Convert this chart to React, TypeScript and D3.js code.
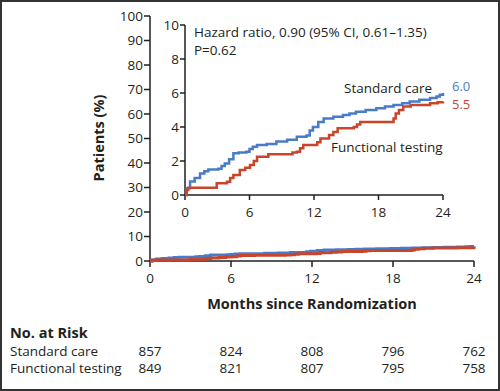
import React from 'react'
import { scaleLinear, line, curveStepAfter } from 'd3'

const months = [0, 6, 12, 18, 24]
const mainYTicks = [0, 10, 20, 30, 40, 50, 60, 70, 80, 90, 100]
const insetYTicks = [0, 2, 4, 6, 8, 10]

// [month, cumulative %]
const standardCare = [
  [0, 0], [0.15, 0.4], [0.47, 0.8], [0.9, 1.0], [1.4, 1.27], [1.8, 1.4], [2.17, 1.5],
  [3.1, 1.55], [3.4, 1.7], [3.7, 1.86], [4.1, 2.1], [4.5, 2.45], [5.0, 2.5],
  [5.7, 2.55], [6.0, 2.7], [6.3, 2.84], [6.7, 2.94], [7.6, 3.0], [8.5, 3.14],
  [9.5, 3.25], [10.4, 3.43], [11.3, 3.5], [11.6, 3.8], [11.9, 4.0], [12.4, 4.3],
  [12.9, 4.5], [13.8, 4.6], [14.7, 4.7], [15.3, 4.8], [15.9, 4.9], [16.8, 5.0],
  [17.8, 5.1], [18.6, 5.2], [19.4, 5.3], [20.2, 5.4], [20.9, 5.5], [21.8, 5.6],
  [22.8, 5.7], [23.4, 5.8], [23.7, 5.9], [24, 6.0]
]

const functionalTesting = [
  [0, 0], [0.15, 0.3], [0.3, 0.43], [2.48, 0.43], [2.95, 0.69], [3.9, 0.78],
  [4.2, 1.0], [4.5, 1.18], [5.1, 1.47], [5.6, 1.6], [6.05, 1.76], [6.4, 2.0],
  [6.7, 2.25], [7.75, 2.39], [9.5, 2.39], [10.0, 2.5], [10.4, 2.55], [10.7, 2.75],
  [11.0, 2.94], [12.0, 2.94], [12.3, 3.1], [12.6, 3.33], [13.4, 3.53], [13.8, 3.7],
  [14.2, 3.92], [15.7, 4.0], [16.0, 4.15], [16.3, 4.3], [18.5, 4.3], [19.4, 4.5],
  [19.6, 4.8], [19.9, 5.0], [20.3, 5.2], [21.0, 5.3], [22.8, 5.4], [23.5, 5.45], [24, 5.5]
]

const riskRows = [
  { label: 'Standard care', values: [857, 824, 808, 796, 762] },
  { label: 'Functional testing', values: [849, 821, 807, 795, 758] }
]

const blue = '#4a7bc9'
const red = '#c9442a'
const ink = '#231f20'
const font = '"Open Sans", Lato, sans-serif'
const fs = 13.5
const fsBold = 14.5

const App = () => {
  const width = 500
  const height = 391

  const x = scaleLinear().domain([0, 24]).range([150, 474])
  const y = scaleLinear().domain([0, 100]).range([261, 16])
  const xi = scaleLinear().domain([0, 24]).range([185, 443])
  const yi = scaleLinear().domain([0, 10]).range([195, 25])

  const mainLine = line().x(d => x(d[0])).y(d => y(d[1])).curve(curveStepAfter)
  const insetLine = line().x(d => xi(d[0])).y(d => yi(d[1])).curve(curveStepAfter)

  return (
    <svg width={width} height={height} style={{ position: 'absolute', left: 0, top: 0 }}
      fontFamily={font} fill={ink}>
      <rect x={1} y={1} width={width - 2} height={height - 2} fill='#fff' stroke='#333' strokeWidth={2} />

      {/* main axes */}
      <line x1={x(0)} x2={x(0)} y1={y(0)} y2={y(100)} stroke={ink} strokeWidth={1.5} />
      <line x1={x(0)} x2={x(24)} y1={y(0)} y2={y(0)} stroke={ink} strokeWidth={1.5} />
      {mainYTicks.map(t => (
        <g key={t}>
          <line x1={x(0) - 6} x2={x(0)} y1={y(t)} y2={y(t)} stroke={ink} strokeWidth={1.5} />
          <text x={x(0) - 7} y={y(t) + 4.8} textAnchor='end' fontSize={fs}>{t}</text>
        </g>
      ))}
      {months.map(m => (
        <g key={m}>
          <line x1={x(m)} x2={x(m)} y1={y(0)} y2={y(0) + 6} stroke={ink} strokeWidth={1.5} />
          <text x={x(m)} y={y(0) + 22} textAnchor='middle' fontSize={fs}>{m}</text>
        </g>
      ))}
      <text transform={`translate(104,138) rotate(-90)`} textAnchor='middle' fontSize={fsBold} fontWeight='bold'>Patients (%)</text>
      <text x={312} y={309} textAnchor='middle' fontSize={fsBold} fontWeight='bold'>Months since Randomization</text>

      <path d={mainLine(standardCare)} fill='none' stroke={blue} strokeWidth={3} />
      <path d={mainLine(functionalTesting)} fill='none' stroke={red} strokeWidth={3} />

      {/* inset */}
      <line x1={xi(0)} x2={xi(0)} y1={yi(0)} y2={yi(10)} stroke={ink} strokeWidth={1.5} />
      <line x1={xi(0)} x2={xi(24)} y1={yi(0)} y2={yi(0)} stroke={ink} strokeWidth={1.5} />
      {insetYTicks.map(t => (
        <g key={t}>
          <line x1={xi(0) - 5} x2={xi(0)} y1={yi(t)} y2={yi(t)} stroke={ink} strokeWidth={1.5} />
          <text x={xi(0) - 6} y={yi(t) + 4.8} textAnchor='end' fontSize={fs}>{t}</text>
        </g>
      ))}
      {months.map(m => (
        <g key={m}>
          <line x1={xi(m)} x2={xi(m)} y1={yi(0)} y2={yi(0) + 5} stroke={ink} strokeWidth={1.5} />
          <text x={xi(m)} y={yi(0) + 22} textAnchor='middle' fontSize={fs}>{m}</text>
        </g>
      ))}
      <path d={insetLine(standardCare)} fill='none' stroke={blue} strokeWidth={2.5} />
      <path d={insetLine(functionalTesting)} fill='none' stroke={red} strokeWidth={2.5} />

      <text x={194} y={37} fontSize={fs}>Hazard ratio, 0.90 (95% CI, 0.61–1.35)</text>
      <text x={194} y={55} fontSize={fs}>P=0.62</text>
      <text x={344} y={93} fontSize={fs}>Standard care</text>
      <text x={331} y={152} fontSize={fs}>Functional testing</text>
      <text x={452} y={90.5} fontSize={13} fill={blue}>6.0</text>
      <text x={452} y={108.5} fontSize={13} fill={red}>5.5</text>

      {/* number at risk */}
      <text x={10} y={338} fontSize={fsBold} fontWeight='bold'>No. at Risk</text>
      {riskRows.map((r, i) => (
        <g key={r.label}>
          <text x={10} y={356 + i * 17} fontSize={fs}>{r.label}</text>
          {r.values.map((v, j) => (
            <text key={j} x={x(months[j])} y={356 + i * 17} textAnchor='middle' fontSize={fs}>{v}</text>
          ))}
        </g>
      ))}
    </svg>
  )
}

export default App
